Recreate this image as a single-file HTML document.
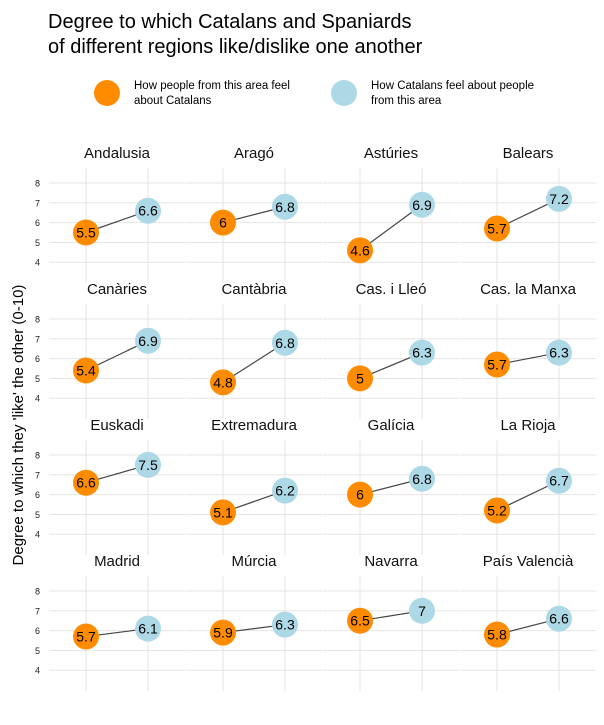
<!DOCTYPE html>
<html><head><meta charset="utf-8">
<style>
body{margin:0;background:#fff;width:604px;height:720px;overflow:hidden;font-family:"Liberation Sans","DejaVu Sans",sans-serif;}
</style></head>
<body>
<svg id="chart" width="604" height="720" xmlns="http://www.w3.org/2000/svg">
<text x="48" y="28" font-size="20" fill="#000">Degree to which Catalans and Spaniards</text>
<text x="48" y="53" font-size="20" fill="#000">of different regions like/dislike one another</text>
<g>
<circle cx="107" cy="93" r="13" fill="#FF8C00"/>
<text x="134" y="89" font-size="11.5">How people from this area feel</text>
<text x="134" y="104" font-size="11.5">about Catalans</text>
<circle cx="344" cy="93" r="13" fill="#ADD8E6"/>
<text x="371" y="89" font-size="11.5">How Catalans feel about people</text>
<text x="371" y="104" font-size="11.5">from this area</text>
</g>
<text transform="translate(23,425) rotate(-90)" text-anchor="middle" font-size="15">Degree to which they 'like' the other (0-10)</text>
<g id="panels"></g>
</svg>
<script>
const regions=["Andalusia","Aragó","Astúries","Balears","Canàries","Cantàbria","Cas. i Lleó","Cas. la Manxa","Euskadi","Extremadura","Galícia","La Rioja","Madrid","Múrcia","Navarra","País Valencià"];
const towardCatalans=[5.5,6,4.6,5.7,5.4,4.8,5,5.7,6.6,5.1,6,5.2,5.7,5.9,6.5,5.8];
const catalansToward=[6.6,6.8,6.9,7.2,6.9,6.8,6.3,6.3,7.5,6.2,6.8,6.7,6.1,6.3,7,6.6];
const yTicks=[4,5,6,7,8];
const NS="http://www.w3.org/2000/svg";
const g=document.getElementById('panels');
function mk(tag,attrs,parent){const e=document.createElementNS(NS,tag);for(const k in attrs)e.setAttribute(k,attrs[k]);(parent||g).appendChild(e);return e;}
const panelLeft=c=>49+c*137, panelW=136;
const yScale=(v,r)=>183+r*136+(8-v)*19.8;
const xScale=(i,c)=>panelLeft(c)+37+i*62;
regions.forEach((name,k)=>{
  const c=k%4,r=Math.floor(k/4);
  const pg=mk('g',{});
  
  
  const top=yScale(8.75,r),bot=yScale(3.35,r);
  yTicks.forEach(t=>{
    const l=mk('line',{x1:panelLeft(c),x2:panelLeft(c)+panelW,y1:yScale(t,r),y2:yScale(t,r),stroke:'#e5e5e5','stroke-width':1},pg);
    
    if(c===0){const tx=mk('text',{x:40,y:yScale(t,r)+3.5,'font-size':9,'text-anchor':'end',fill:'#222'},pg);tx.textContent=t;
      }
  });
  [0,1].forEach(i=>{const l=mk('line',{x1:xScale(i,c),x2:xScale(i,c),y1:top,y2:bot+8,stroke:'#e5e5e5'},pg);
    });
  const tt=mk('text',{x:panelLeft(c)+panelW/2,y:yScale(8,r)-25,'font-size':15,'text-anchor':'middle',fill:'#111'},pg);
  tt.textContent=name;
  const a=towardCatalans[k],b=catalansToward[k];
  const ln=mk('line',{x1:xScale(0,c),y1:yScale(a,r),x2:xScale(1,c),y2:yScale(b,r),stroke:'#444','stroke-width':1.2},pg);
  
  [[0,a,'#FF8C00'],[1,b,'#ADD8E6']].forEach(([i,v,col])=>{
    const ci=mk('circle',{cx:xScale(i,c),cy:yScale(v,r),r:13,fill:col},pg);
    
    const tx=mk('text',{x:xScale(i,c),y:yScale(v,r)+5,'font-size':14,'text-anchor':'middle',fill:'#000'},pg);
    tx.textContent=v;
  });
});
</script>
</body></html>
